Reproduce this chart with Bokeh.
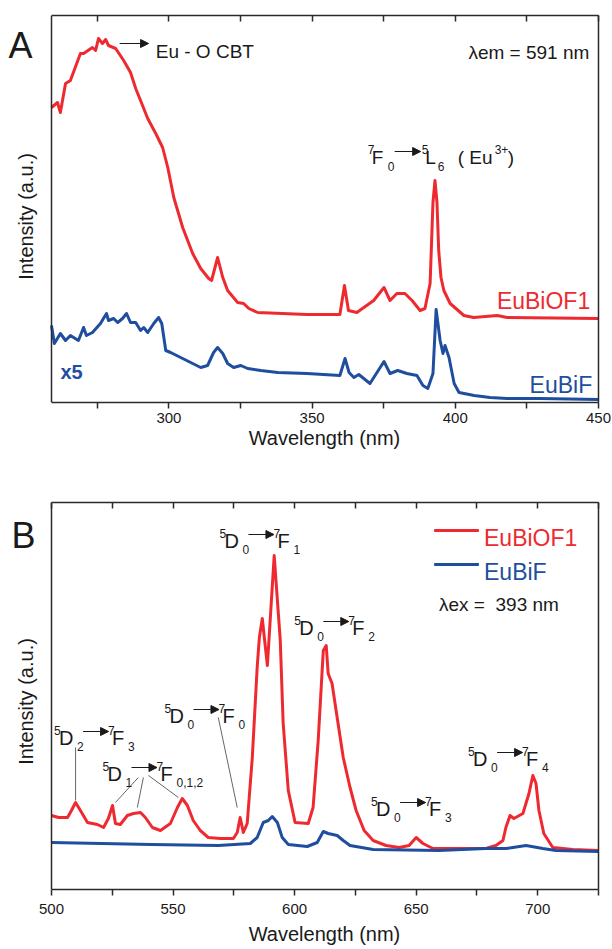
import math
from bokeh.plotting import figure
from bokeh.layouts import column
from bokeh.models import (Range1d, FixedTicker, LinearAxis, Label, Arrow, NormalHead, Span)
from bokeh.embed import file_html
from bokeh.resources import INLINE

# ---------------- data: panel A (excitation, lambda_em = 591 nm) ----------------
exc_red_nm = [259.0, 261.1, 262.1, 263.9, 265.6, 269.1, 270.2, 273.3, 274.4, 275.4, 276.8, 277.9,
              278.9, 281.4, 284.2, 286.6, 288.4, 290.1, 292.6, 295.4, 297.8, 299.6, 301.7, 304.8,
              308.3, 311.1, 313.9, 314.9, 317.0, 318.8, 320.5, 324.0, 326.1, 327.9, 331.0, 348.2,
              359.7, 361.3, 362.7, 365.6, 371.5, 375.1, 377.2, 379.6, 382.4, 384.9, 387.7, 389.4,
              391.2, 392.2, 392.9, 393.6, 394.2, 395.0, 396.0, 398.2, 403.0, 406.4, 414.6, 418.1, 450.0]
exc_red_int = [295, 300, 290, 319, 322, 349, 349, 355, 352, 364, 359, 363,
               357, 354, 342, 330, 314, 302, 284, 269, 255, 235, 205, 175,
               149, 134, 124, 122, 145, 125, 112, 100, 99, 94, 90, 88,
               88, 117, 92, 90, 102, 115, 102, 109, 109, 102, 92, 94,
               119, 200, 222, 200, 152, 125, 112, 99, 87, 85, 87, 85, 84]

exc_blue_nm = [259.0, 260.0, 262.1, 263.9, 265.6, 268.4, 270.2, 271.2, 273.3, 276.1, 278.2, 278.9,
               280.7, 282.1, 283.8, 285.2, 286.6, 288.4, 290.1, 291.2, 292.6, 294.7, 296.4, 297.5,
               298.9, 300.6, 304.1, 308.3, 311.1, 313.5, 315.6, 317.0, 318.8, 320.5, 322.6, 325.1,
               327.5, 332.1, 338.0, 348.2, 359.7, 361.5, 362.9, 364.6, 366.3, 370.2, 375.1, 377.2,
               379.9, 383.1, 386.6, 388.7, 390.4, 392.2, 393.3, 394.7, 395.7, 396.4, 397.8, 399.6,
               401.3, 406.6, 412.1, 418.1, 429.6, 450.0]
exc_blue_int = [77, 59, 69, 62, 67, 62, 75, 67, 70, 79, 89, 82,
                84, 80, 84, 89, 80, 80, 72, 75, 70, 79, 85, 79,
                52, 50, 45, 39, 35, 37, 50, 55, 49, 39, 35, 37,
                34, 32, 30, 29, 27, 44, 30, 25, 28, 19, 41, 29,
                32, 29, 27, 17, 14, 29, 93, 62, 49, 57, 45, 19,
                10, 7, 5, 4, 4, 3]

exc_range = [259, 450]
exc_ticks = [300, 350, 400, 450]
exc_minor = [275, 325, 375, 425]

# ---------------- data: panel B (emission, lambda_ex = 393 nm) ----------------
em_red_nm = [500.0, 502.9, 506.6, 508.2, 509.9, 511.9, 514.8, 518.9, 521.4, 523.4, 525.1, 526.3,
             528.3, 531.2, 533.7, 536.6, 538.6, 541.5, 544.8, 548.9, 551.8, 553.8, 555.9, 558.3,
             561.2, 564.5, 569.4, 574.8, 576.4, 577.6, 578.9, 580.5, 582.6, 584.6, 585.5, 586.7,
             588.8, 591.6, 594.1, 595.3, 597.4, 600.2, 605.6, 607.6, 609.7, 611.8, 613.0, 613.8,
             615.4, 617.5, 620.0, 622.8, 625.3, 628.6, 632.3, 637.6, 643.0, 647.1, 650.0, 652.8,
             656.9, 666.4, 678.7, 682.8, 685.7, 686.9, 688.6, 690.2, 693.9, 696.4, 698.0, 699.3,
             700.5, 702.5, 706.2, 714.4, 725.0]
em_red_int = [74, 72, 72, 79, 87, 79, 67, 65, 62, 71, 84, 66,
              65, 74, 76, 77, 72, 62, 59, 66, 82, 91, 84, 69,
              59, 52, 51, 51, 57, 72, 57, 66, 132, 222, 252, 271,
              224, 334, 249, 166, 99, 67, 66, 82, 149, 239, 244, 216,
              206, 172, 132, 102, 79, 59, 49, 44, 42, 44, 52, 46,
              41, 41, 41, 44, 49, 62, 74, 71, 76, 96, 114, 106,
              79, 56, 42, 40, 39]

em_blue_nm = [500.0, 541.1, 568.6, 581.8, 584.6, 587.1, 589.2, 590.8, 592.9, 594.9, 597.4, 605.2,
              609.3, 611.8, 613.8, 617.5, 620.0, 622.8, 632.3, 659.4, 678.7, 686.9, 689.8, 695.2,
              702.1, 707.5, 725.0]
em_blue_int = [47, 45, 44, 46, 52, 67, 69, 73, 67, 52, 45, 43,
               47, 58, 56, 54, 49, 44, 40, 39, 41, 41, 42, 44,
               41, 39, 38]

em_range = [500, 725]
em_ticks = [500, 550, 600, 650, 700]
em_minor = [525, 575, 625, 675, 725]

Y_MAX = 387

RED = "#EE2A30"
BLUE = "#1F4E9E"
INK = "#1a1a1a"
FRAME = "#2a2a2a"
FONT = "Liberation Sans"

W = 612
BOX_LEFT = 51      # pixel position of the plot box's left edge
BOX_RIGHT_PAD = 14
# the axis title is centred on the whole frame, which here starts at the canvas edge;
# leading no-break spaces move it back to the centre of the plot box
XLABEL = "\u00a0" * 9 + "Wavelength (nm)"


def style_line(a):
    a.axis_line_color = FRAME
    a.axis_line_width = 1.5
    a.major_tick_line_color = FRAME
    a.minor_tick_line_color = FRAME
    a.major_tick_line_width = 1.5
    a.minor_tick_line_width = 1.5


def make_fig(xr, height, top, bottom, ticks, minor, tick_standoff, label_standoff):
    box_w = W - BOX_LEFT - BOX_RIGHT_PAD
    sx = box_w / (xr[1] - xr[0])
    x_start = xr[0] - BOX_LEFT / sx  # frame reaches the left canvas edge
    p = figure(width=W, height=height, x_range=Range1d(x_start, xr[1]),
               y_range=Range1d(0, Y_MAX),
               output_backend="svg", toolbar_location=None, tools="",
               min_border_left=0, min_border_right=BOX_RIGHT_PAD, min_border_top=top,
               min_border_bottom=bottom, x_axis_type=None, y_axis_type=None)
    p.grid.visible = False
    p.outline_line_color = None
    p.background_fill_color = "white"
    p.border_fill_color = "white"

    xb = LinearAxis(ticker=FixedTicker(ticks=ticks, minor_ticks=minor), bounds=tuple(xr))
    xb.axis_label = XLABEL
    xb.axis_label_text_font = FONT
    xb.axis_label_text_font_size = "20px"
    xb.axis_label_text_font_style = "normal"
    xb.axis_label_text_color = INK
    xb.axis_label_standoff = label_standoff
    xb.major_label_text_font = FONT
    xb.major_label_text_font_size = "15px"
    xb.major_label_text_color = INK
    xb.major_label_standoff = tick_standoff
    xb.major_tick_out = 6
    xb.major_tick_in = 0
    xb.minor_tick_out = 6
    xb.minor_tick_in = 0
    style_line(xb)
    p.add_layout(xb, "below")

    # mirrored top axis: inward ticks only, no labels
    xt = LinearAxis(ticker=FixedTicker(ticks=[], minor_ticks=sorted(ticks + minor)),
                    bounds=tuple(xr))
    xt.major_label_standoff = 0
    xt.major_tick_out = 0
    xt.major_tick_in = 0
    xt.minor_tick_out = 0
    xt.minor_tick_in = 6
    style_line(xt)
    p.add_layout(xt, "above")

    # right edge of the box
    yr = LinearAxis(ticker=FixedTicker(ticks=[]))
    yr.major_tick_out = 0
    yr.major_label_standoff = 0
    yr.axis_line_color = FRAME
    yr.axis_line_width = 1.5
    p.add_layout(yr, "right")

    # left edge of the box
    p.add_layout(Span(location=xr[0], dimension="height", line_color=FRAME, line_width=1.5))
    return p, sx, x_start


def lab(p, x, y, text, size, color=INK, dx=0, dy=0, align="left", weight="normal",
        angle=0.0, baseline="alphabetic"):
    p.add_layout(Label(x=x, y=y, x_offset=dx, y_offset=dy, angle=angle,
                       text=text, text_font=FONT, text_font_style=weight,
                       text_font_size=f"{size}px", text_color=color, text_align=align,
                       text_baseline=baseline))


def arrow(p, x1, y1, x2, y2):
    p.add_layout(Arrow(x_start=x1, y_start=y1, x_end=x2, y_end=y2, line_width=1,
                       line_color=INK,
                       end=NormalHead(size=8, fill_color=INK, line_color=INK, line_width=1)))


def term(p, sx, x0, y0, parts, arr, main=20, small=12):
    # parts: (text, dx_px, dy_px, is_small)
    for t, dx, dy, sm in parts:
        lab(p, x0, y0, t, small if sm else main, dx=dx, dy=dy)
    a1, a2, ady = arr
    arrow(p, x0 + a1 / sx, y0 + ady, x0 + a2 / sx, y0 + ady)


def transition(p, sx, x0, y0, a, an, b, bn):
    parts = [(a, -3, 7, True), ("D", 2, 0, False), (an, 20, -9, True),
             (b, 51, 7, True), ("F", 55, 0, False), (bn, 71, -9, True)]
    term(p, sx, x0, y0, parts, (26, 51.5, 6))


# ---------------- panel A ----------------
pa, sxa, xa0 = make_fig(exc_range, 463, 15, 61, exc_ticks, exc_minor, 4, 1)
pa.line(exc_red_nm, exc_red_int, line_color=RED, line_width=3, line_join="round")
pa.line(exc_blue_nm, exc_blue_int, line_color=BLUE, line_width=3, line_join="round")

lab(pa, xa0 + 8 / sxa, 357, "A", 36)
lab(pa, xa0 + 25 / sxa, 186, "Intensity (a.u.)", 20, align="center", baseline="middle",
    angle=math.pi / 2)
arrow(pa, 282.8, 359, 292.9, 359)
lab(pa, 295.4, 351, "Eu - O CBT", 19)
lab(pa, 446.8, 350, "λem = 591 nm", 19, align="right")
term(pa, sxa, 369.4, 245,
     [("7", 0, 8, True), ("F", 4, 0, False), ("0", 20, -9, True),
      ("5", 54, 8, True), ("L", 57.5, 0, False), ("6", 70, -9, True),
      ("( Eu", 90, 0, False), ("3+", 127, 8, True), (")", 140, 0, False)],
     (27, 53, 6), main=19, small=12)
lab(pa, 447.1, 102, "EuBiOF1", 23, color=RED, align="right")
lab(pa, 447.8, 18, "EuBiF", 23, color=BLUE, align="right")
lab(pa, 262.1, 31, "x5", 20, color=BLUE, weight="bold")

# ---------------- panel B ----------------
pb, sxb, xb0 = make_fig(em_range, 486, 39, 60, em_ticks, em_minor, 8, 6)
pb.line(em_red_nm, em_red_int, line_color=RED, line_width=3, line_join="round")
pb.line(em_blue_nm, em_blue_int, line_color=BLUE, line_width=3, line_join="round")

lab(pb, xb0 + 11 / sxb, 354, "B", 36)
lab(pb, xb0 + 25 / sxb, 188, "Intensity (a.u.)", 20, align="center", baseline="middle",
    angle=math.pi / 2)

transition(pb, sxb, 502.3, 152, "5", "2", "7", "3")
transition(pb, sxb, 522.2, 116, "5", "1", "7", "0,1,2")
transition(pb, sxb, 547.7, 174, "5", "0", "7", "0")
transition(pb, sxb, 570.3, 349, "5", "0", "7", "1")
transition(pb, sxb, 601.1, 262, "5", "0", "7", "2")
transition(pb, sxb, 632.7, 81, "5", "0", "7", "3")
transition(pb, sxb, 672.6, 131, "5", "0", "7", "4")

# leader lines from labels to the peaks
lead_x0 = [509.9, 535.7, 537.8, 539.9, 568.6]
lead_y0 = [142, 112, 112, 114, 172]
lead_x1 = [509.9, 526.3, 535.3, 552.2, 576.4]
lead_y1 = [89, 87, 82, 92, 82]
pb.segment(lead_x0, lead_y0, lead_x1, lead_y1, line_color="#666666", line_width=1)

# legend (panel B)
pb.segment([657.4], [359], [675.8], [359], line_color=RED, line_width=3)
pb.segment([657.4], [325], [675.8], [325], line_color=BLUE, line_width=3)
lab(pb, 677.9, 352, "EuBiOF1", 23, color=RED)
lab(pb, 677.9, 318, "EuBiF", 23, color=BLUE)
lab(pb, 659.4, 285, "λex =\u00a0 393 nm", 19)

layout = column(pa, pb, spacing=0)
open("out.html", "w").write(file_html(layout, INLINE))
